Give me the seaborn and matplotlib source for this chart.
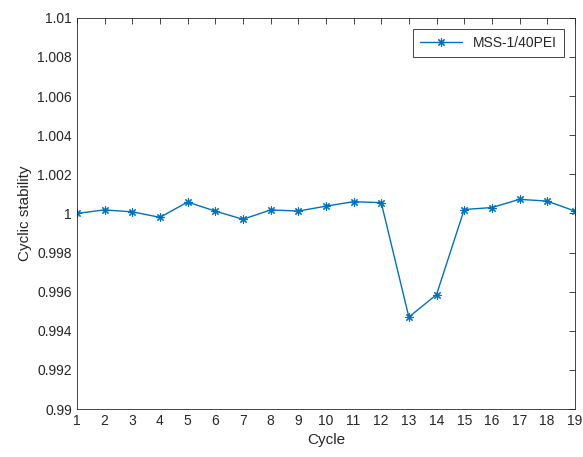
import matplotlib
matplotlib.use('Agg')
import matplotlib.pyplot as plt
import seaborn as sns
import pandas as pd

# data
cycles = list(range(1, 20))
stability = [1.0000, 1.00018, 1.00008, 0.9998, 1.00058, 1.00012, 0.9997, 1.00018, 1.00012,
             1.00037, 1.0006, 1.00055, 0.9947, 0.99585, 1.0002, 1.0003, 1.00072, 1.00063, 1.00012]
series_name = 'MSS-1/40PEI'

df = pd.DataFrame({'Cycle': cycles, 'Cyclic stability': stability})

sns.set_style('white')
plt.rcParams['font.family'] = ['Liberation Sans', 'DejaVu Sans']
plt.rcParams['xtick.direction'] = 'in'
plt.rcParams['ytick.direction'] = 'in'

fig = plt.figure(figsize=(5.83, 4.57), dpi=100)
ax = fig.add_axes([0.132, 0.105, 0.854, 0.856])

sns.lineplot(data=df, x='Cycle', y='Cyclic stability', ax=ax, color='#0072BD',
             marker=(8, 2, 0), markersize=6, markeredgecolor='#0072BD',
             markeredgewidth=0.8, linewidth=1, label=series_name)

ax.set_xlim(1, 19)
ax.set_ylim(0.99, 1.01)
ax.set_xticks(cycles)
yt = [0.99, 0.992, 0.994, 0.996, 0.998, 1.0, 1.002, 1.004, 1.006, 1.008, 1.01]
ax.set_yticks(yt)
ax.set_yticklabels(['0.99', '0.992', '0.994', '0.996', '0.998', '1', '1.002', '1.004', '1.006', '1.008', '1.01'])
ax.tick_params(labelsize=10, colors='#262626', length=4, top=True, right=True, width=0.6)
for s in ax.spines.values():
    s.set_color('#262626')
    s.set_linewidth(0.6)
ax.set_xlabel('Cycle', fontsize=11, color='#262626')
ax.set_ylabel('Cyclic stability', fontsize=11, color='#262626')

leg = ax.legend(loc='upper right', fontsize=10, fancybox=False, edgecolor='#262626',
                framealpha=1, borderaxespad=0.8, handlelength=3, borderpad=0.5)
leg.get_frame().set_linewidth(0.6)

fig.savefig('out.png', dpi=100)
